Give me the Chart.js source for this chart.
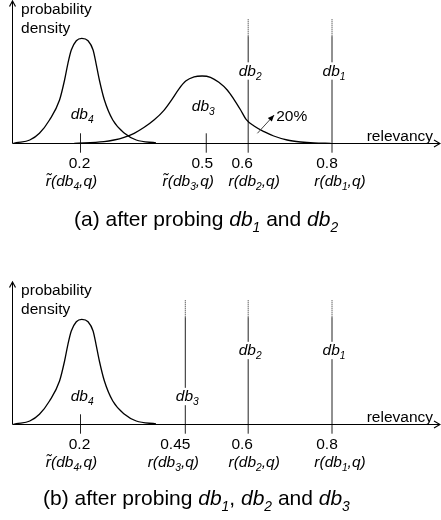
<!DOCTYPE html>
<html>
<head>
<meta charset="utf-8">
<title>relevancy density</title>
<script src="https://cdn.jsdelivr.net/npm/chart.js@4.4.1/dist/chart.umd.min.js"></script>
<style>
  body { margin: 0; background: #fff; }
  canvas { display: block; }
</style>
</head>
<body>
<canvas id="chartA" width="441" height="260"></canvas>
<canvas id="chartB" width="441" height="260"></canvas>
<script>
// estimated relevancy density of db4 (same in both panels)
const db4X = [0.040, 0.047, 0.079, 0.102, 0.126, 0.150, 0.162, 0.170, 0.178, 0.190, 0.203,
              0.218, 0.230, 0.237, 0.245, 0.257, 0.277, 0.305, 0.333, 0.380];
const db4Y = [0, 0.006, 0.033, 0.10, 0.233, 0.433, 0.633, 0.80, 0.933, 1.026, 1.05,
              1.026, 0.933, 0.80, 0.633, 0.433, 0.233, 0.10, 0.033, 0.004];

// estimated relevancy density of db3 (panel a only)
const db3X = [0.185, 0.256, 0.280, 0.304, 0.328, 0.352, 0.376, 0.399, 0.419, 0.435, 0.451, 0.471, 0.490,
              0.510, 0.530, 0.550, 0.566, 0.582, 0.595, 0.614, 0.638, 0.661, 0.693, 0.725, 0.757, 0.797];
const db3Y = [0, 0.016, 0.033, 0.06, 0.10, 0.16, 0.235, 0.33, 0.445, 0.545, 0.622, 0.664, 0.673,
              0.66, 0.61, 0.533, 0.44, 0.333, 0.24, 0.173, 0.116, 0.073, 0.033, 0.013, 0.003, 0];

// (a) after probing db1 and db2
const ticksA = [0.2, 0.5, 0.6, 0.8];
const tickDbA = ['4', '3', '2', '1'];
const tickEstA = [true, true, false, false];
const probedA = [0.6, 0.8];
const probedDbA = ['2', '1'];

// (b) after probing db1, db2 and db3
const ticksB = [0.2, 0.45, 0.6, 0.8];
const tickDbB = ['4', '3', '2', '1'];
const tickEstB = [true, false, false, false];
const probedB = [0.45, 0.6, 0.8];
const probedDbB = ['3', '2', '1'];

// part of db3's density above r(db2,q)
const shareText = '20%';

const FONT = '"Liberation Sans", Arial, Helvetica, sans-serif';
const LINE_TOP = 1.07, DOT_TOP = 1.25, BELOW = -0.094;

const layoutA = {
  padding: { left: 12.6, right: 0, top: 2, bottom: 116.7 },
  ticks: ticksA, db: tickDbA, est: tickEstA,
  probed: probedA, probedDb: probedDbA, probedLabelY: [0.678, 0.678],
  numShift: [-1, -4, -6, -5],
  nameShift: [-9, -18, 6, 8],
  curveLabels: [[0.204, 0.243, '4'], [0.493, 0.323, '3']],
  arrow: [0.622, 0.10, 0.662, 0.283],
  caption: [['(a) after probing ', 'n'], ['db', 'i'], ['1', 's'], [' and ', 'n'], ['db', 'i'], ['2', 's']],
  captionX: 74, captionDy: 82.7
};
const layoutB = {
  padding: { left: 12.6, right: 0, top: 23, bottom: 95.7 },
  ticks: ticksB, db: tickDbB, est: tickEstB,
  probed: probedB, probedDb: probedDbB, probedLabelY: [0.233, 0.693, 0.693],
  numShift: [-1, -10, -6, -5],
  nameShift: [-9, -12, 6, 8],
  curveLabels: [[0.204, 0.236, '4']],
  arrow: null,
  caption: [['(b) after probing ', 'n'], ['db', 'i'], ['1', 's'], [', ', 'n'], ['db', 'i'], ['2', 's'],
            [' and ', 'n'], ['db', 'i'], ['3', 's']],
  captionX: 43, captionDy: 80.7
};

function setFont(ctx, kind, size) {
  if (kind === 's') ctx.font = 'italic ' + (size * 0.66) + 'px ' + FONT;
  else ctx.font = (kind === 'i' ? 'italic ' : '') + size + 'px ' + FONT;
}

function richWidth(ctx, parts, size) {
  let w = 0;
  for (const [t, k] of parts) {
    setFont(ctx, k, size);
    w += ctx.measureText(t).width;
  }
  return w;
}

// parts: [text, kind], kind n = normal, i = italic, s = subscript
function text(ctx, parts, x, y, size, align, bg) {
  const w = richWidth(ctx, parts, size);
  let cx = align === 'center' ? x - w / 2 : (align === 'right' ? x - w : x);
  if (bg) {
    ctx.fillStyle = '#fff';
    ctx.fillRect(cx - 1, y - size * 0.85, w + 2, size * 1.12);
  }
  ctx.fillStyle = '#000';
  ctx.textAlign = 'left';
  ctx.textBaseline = 'alphabetic';
  for (const [t, k] of parts) {
    setFont(ctx, k, size);
    ctx.fillText(t, cx, k === 's' ? y + size * 0.26 : y);
    cx += ctx.measureText(t).width;
  }
}

function sketch(panel) {
  return {
    id: 'sketch',
    afterDatasetsDraw(chart) {
      const ctx = chart.ctx;
      const sx = chart.scales.x, sy = chart.scales.y, area = chart.chartArea;
      const px = v => sx.getPixelForValue(v);
      const py = v => sy.getPixelForValue(v);
      const y0 = Math.round(py(0)) + 0.5;
      const xL = Math.floor(area.left) + 0.5;
      ctx.save();
      ctx.strokeStyle = '#000';
      ctx.lineWidth = 1;
      ctx.beginPath();
      ctx.moveTo(xL, y0); ctx.lineTo(area.right - 1, y0);
      ctx.moveTo(xL, y0); ctx.lineTo(xL, area.top - 1);
      ctx.stroke();
      ctx.lineWidth = 1.2;
      ctx.beginPath();
      ctx.moveTo(xL - 3, area.top + 4.5); ctx.lineTo(xL, area.top - 1); ctx.lineTo(xL + 3, area.top + 4.5);
      ctx.moveTo(area.right - 7, y0 - 3.5); ctx.lineTo(area.right - 1, y0); ctx.lineTo(area.right - 7, y0 + 3.5);
      ctx.stroke();

      text(ctx, [['probability', 'n']], area.left + 8.5, area.top + 12, 15.5, 'left');
      text(ctx, [['density', 'n']], area.left + 8.5, area.top + 30.5, 15.5, 'left');
      text(ctx, [['relevancy', 'n']], area.right - 8, y0 - 2.5, 15.5, 'right');

      panel.ticks.forEach((v, i) => {
        const x = px(v);
        text(ctx, [[String(v), 'n']], x + panel.numShift[i], y0 + 24.5, 15.5, 'center');
        text(ctx, [[panel.est[i] ? 'r\u0303(' : 'r(', 'i'], ['db', 'i'], [panel.db[i], 's'], [',q)', 'i']],
             x + panel.nameShift[i], y0 + 42.7, 15.5, 'center');
      });

      panel.probed.forEach((v, i) => {
        text(ctx, [['db', 'i'], [panel.probedDb[i], 's']], px(v) + 2, py(panel.probedLabelY[i]), 15.5, 'center', true);
      });
      panel.curveLabels.forEach(([v, h, n]) => {
        text(ctx, [['db', 'i'], [n, 's']], px(v), py(h), 15.5, 'center');
      });

      if (panel.arrow) {
        const [x1, y1, x2, y2] = panel.arrow;
        const ax = px(x1), ay = py(y1), bx = px(x2), by = py(y2);
        ctx.strokeStyle = '#444';
        ctx.lineWidth = 1;
        ctx.beginPath(); ctx.moveTo(ax, ay); ctx.lineTo(bx, by); ctx.stroke();
        const ang = Math.atan2(by - ay, bx - ax);
        ctx.fillStyle = '#000';
        ctx.beginPath();
        ctx.moveTo(bx, by);
        ctx.lineTo(bx - 7 * Math.cos(ang - 0.4), by - 7 * Math.sin(ang - 0.4));
        ctx.lineTo(bx - 7 * Math.cos(ang + 0.4), by - 7 * Math.sin(ang + 0.4));
        ctx.closePath();
        ctx.fill();
        text(ctx, [[shareText, 'n']], bx + 2, py(y2 - 0.057), 15.5, 'left');
      }

      text(ctx, panel.caption, panel.captionX, y0 + panel.captionDy, 21, 'left');
      ctx.restore();
    }
  };
}

function curve(xs, ys) {
  return {
    data: xs.map((x, i) => ({ x: x, y: ys[i] })),
    borderColor: '#000', borderWidth: 1.3,
    pointRadius: 0, fill: false, clip: false,
    cubicInterpolationMode: 'monotone'
  };
}

function vline(x, y1, y2, dotted) {
  return {
    data: [{ x: x, y: y1 }, { x: x, y: y2 }],
    borderColor: '#222', borderWidth: 1,
    borderDash: dotted ? [1, 1] : [],
    pointRadius: 0, fill: false, clip: false, tension: 0
  };
}

function makeChart(id, datasets, panel) {
  return new Chart(document.getElementById(id), {
    type: 'line',
    data: { datasets: datasets },
    options: {
      responsive: false,
      animation: false,
      devicePixelRatio: 1,
      events: [],
      layout: { padding: panel.padding },
      scales: {
        x: { type: 'linear', display: false, min: 0.038, max: 1.06 },
        y: { type: 'linear', display: false, min: 0, max: 1.413 }
      },
      plugins: { legend: { display: false }, tooltip: { enabled: false } }
    },
    plugins: [sketch(panel)]
  });
}

// panel (a)
let dsA = [curve(db4X, db4Y), curve(db3X, db3Y)];
ticksA.forEach((v, i) => {
  if (tickEstA[i]) dsA.push(vline(v, BELOW, 0.10, false));
});
probedA.forEach(v => {
  dsA.push(vline(v, BELOW, LINE_TOP, false));
  dsA.push(vline(v, LINE_TOP, DOT_TOP, true));
});
makeChart('chartA', dsA, layoutA);

// panel (b)
let dsB = [curve(db4X, db4Y)];
ticksB.forEach((v, i) => {
  if (tickEstB[i]) dsB.push(vline(v, BELOW, 0.10, false));
});
probedB.forEach(v => {
  dsB.push(vline(v, BELOW, LINE_TOP, false));
  dsB.push(vline(v, LINE_TOP, DOT_TOP, true));
});
makeChart('chartB', dsB, layoutB);
</script>
</body>
</html>
